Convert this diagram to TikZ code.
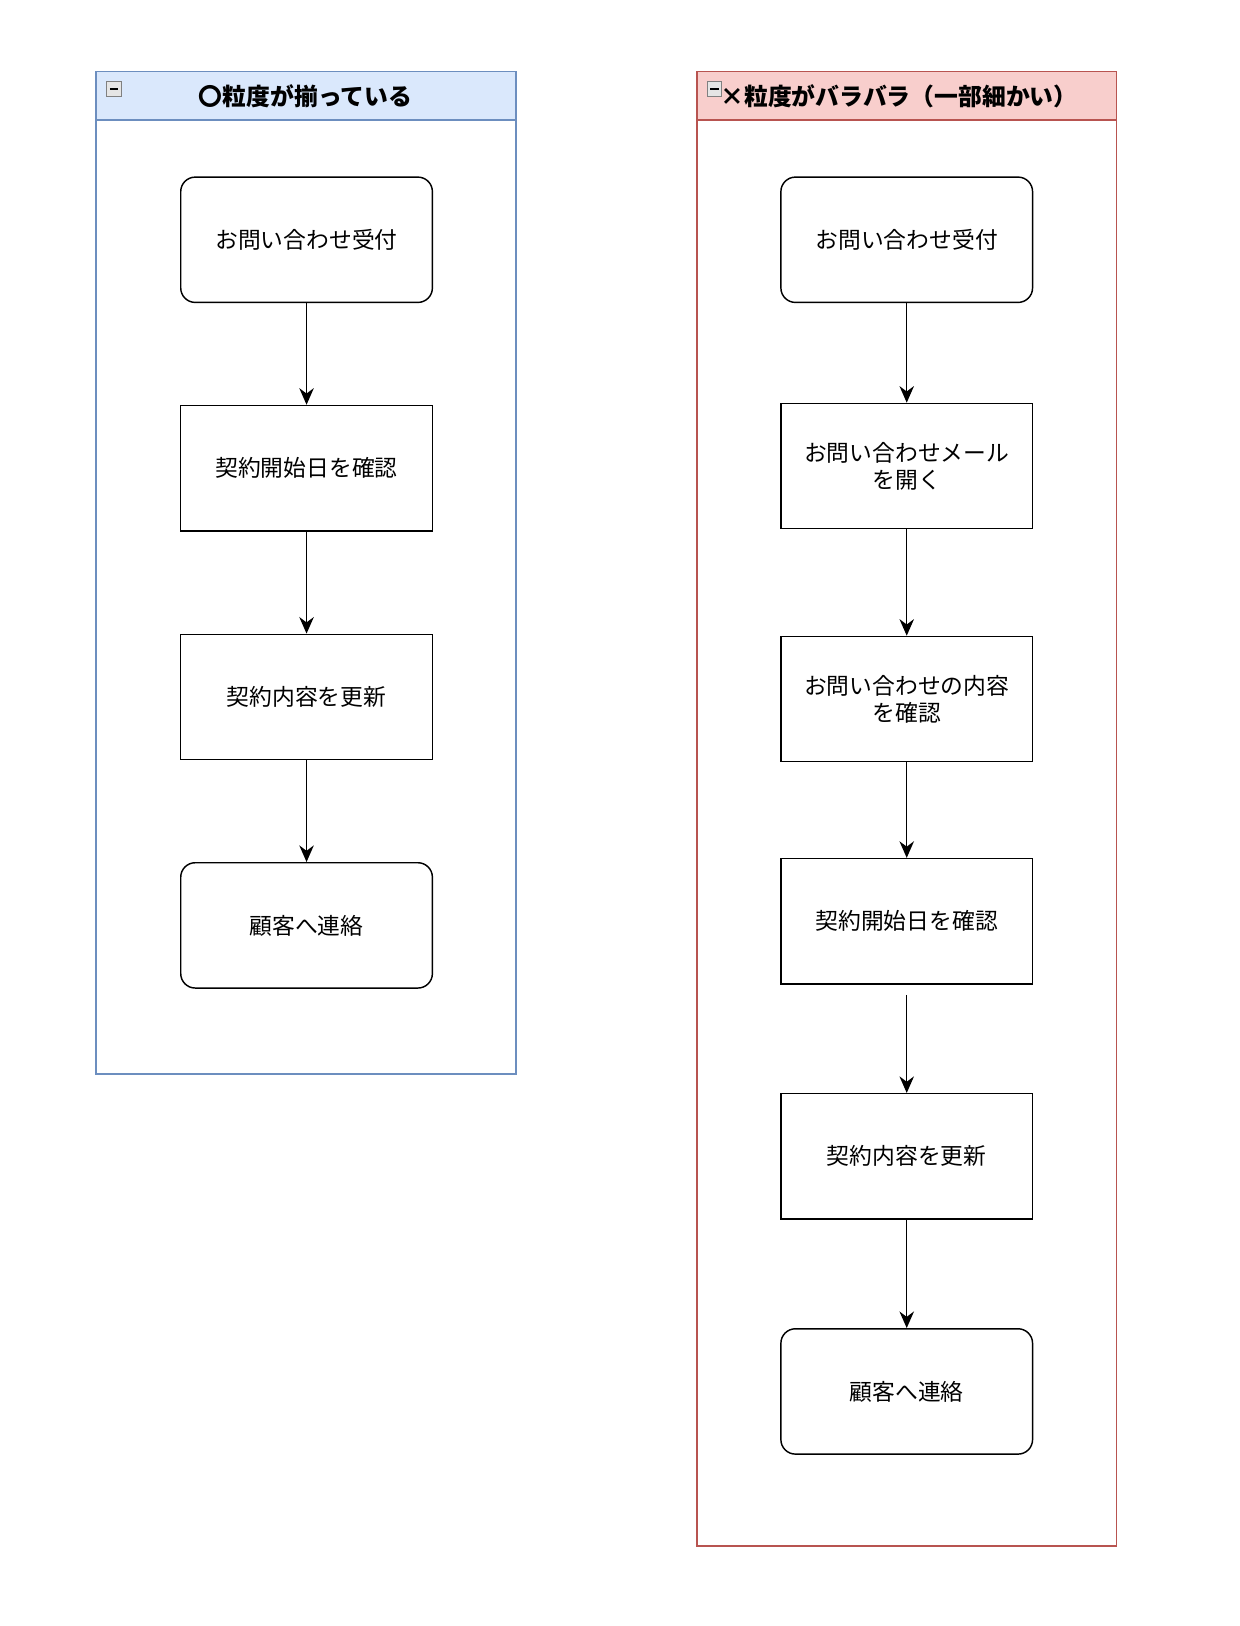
\documentclass[tikz,border=0pt]{standalone}
\usepackage{fontspec}
\newfontfamily\jp{Noto Sans CJK JP}
\usetikzlibrary{arrows.meta}
\definecolor{bfill}{HTML}{DAE8FC}\definecolor{bline}{HTML}{6C8EBF}
\definecolor{rfill}{HTML}{F8CECC}\definecolor{rline}{HTML}{B85450}
\begin{document}
\begin{tikzpicture}[x=0.5pt,y=-0.5pt,font=\jp\fontsize{11}{13}\selectfont,
 box/.style={draw,line width=0.7pt,minimum width=121.5pt,minimum height=60.5pt,align=center,inner sep=2pt},
 rbox/.style={box,rounded corners=7pt},
 arr/.style={-{Stealth[length=8pt,width=7pt]},line width=0.7pt},
 icon/.style={draw=gray,fill=gray!20,minimum size=7pt,inner sep=0pt,line width=0.5pt}]
\useasboundingbox (0,0) rectangle (1197,1570);
% left container
\draw[bline,line width=0.8pt] (93,69) rectangle (498,1037);
\draw[bline,fill=bfill,line width=0.8pt] (93,69) rectangle (498,116);
\node[icon] (li) at (110,86) {}; \draw[line width=0.6pt] (106,86)--(114,86);
\node[font=\jp\bfseries\fontsize{11.5}{13}\selectfont] (lt) at (295,93) {〇粒度が揃っている};
% right container
\draw[rline,line width=0.8pt] (673,69) rectangle (1078,1493);
\draw[rline,fill=rfill,line width=0.8pt] (673,69) rectangle (1078,116);
\node[icon] (ri) at (690,86) {}; \draw[line width=0.6pt] (686,86)--(694,86);
\node[font=\jp\bfseries\fontsize{11.5}{13}\selectfont] (rt) at (868,93) {×粒度がバラバラ（一部細かい）};
% left nodes
\node[rbox] (a1) at (296,231.5) {お問い合わせ受付};
\node[box] (a2) at (296,452) {契約開始日を確認};
\node[box] (a3) at (296,673) {契約内容を更新};
\node[rbox] (a4) at (296,893.5) {顧客へ連絡};
\draw[arr] (a1)--(a2); \draw[arr] (a2)--(a3); \draw[arr] (a3)--(a4);
% right nodes
\node[rbox] (b1) at (875.5,231.5) {お問い合わせ受付};
\node[box] (b2) at (875.5,450) {お問い合わせメール\\を開く};
\node[box] (b3) at (875.5,675) {お問い合わせの内容\\を確認};
\node[box] (b4) at (875.5,889.5) {契約開始日を確認};
\node[box] (b5) at (875.5,1116.5) {契約内容を更新};
\node[rbox] (b6) at (875.5,1343.5) {顧客へ連絡};
\draw[arr] (b1)--(b2); \draw[arr] (b2)--(b3); \draw[arr] (b3)--(b4);
\draw[arr] ([yshift=-5]b4.south)--(b5); \draw[arr] (b5)--(b6);
\end{tikzpicture}
\end{document}
